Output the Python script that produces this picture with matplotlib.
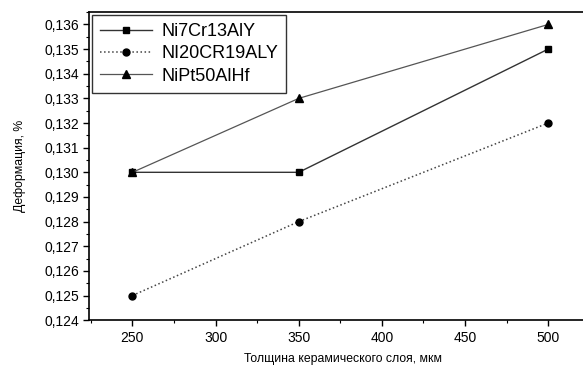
import matplotlib
matplotlib.use("Agg")
import matplotlib.pyplot as plt
from matplotlib.ticker import MultipleLocator, FuncFormatter

thickness = [250, 350, 500]
ni7cr13aly = [0.130, 0.130, 0.135]
ni20cr19aly = [0.125, 0.128, 0.132]
nipt50alhf = [0.130, 0.133, 0.136]
labels = ["Ni7Cr13AlY", "NI20CR19ALY", "NiPt50AlHf"]

plt.rcParams['font.family'] = ['Liberation Sans', 'DejaVu Sans']

fig = plt.figure(figsize=(5.83, 3.68), dpi=100)
ax = fig.add_axes([0.153, 0.130, 0.87, 0.837])

ax.plot(thickness, ni7cr13aly, '-s', color='#333333', lw=1.0, ms=5,
        mfc='black', mec='black', label=labels[0])
ax.plot(thickness, ni20cr19aly, ':o', color='#444444', lw=1.1, ms=5,
        mfc='black', mec='black', label=labels[1])
ax.plot(thickness, nipt50alhf, '-^', color='#555555', lw=0.9, ms=5.5,
        mfc='black', mec='black', label=labels[2])

ax.set_xlim(224, 529)
ax.set_ylim(0.124, 0.1365)
ax.xaxis.set_major_locator(MultipleLocator(50))
ax.xaxis.set_minor_locator(MultipleLocator(25))
ax.yaxis.set_major_locator(MultipleLocator(0.001))
ax.yaxis.set_minor_locator(MultipleLocator(0.0005))
ax.yaxis.set_major_formatter(FuncFormatter(lambda v, p: f"{v:.3f}".replace('.', ',')))
ax.tick_params(which='major', direction='out', length=4, width=1, labelsize=10)
ax.tick_params(which='minor', direction='out', length=2, width=0.8)
for s in ax.spines.values():
    s.set_linewidth(1.2)

ax.set_xlabel("Толщина керамического слоя, мкм", fontsize=8.8)
ax.set_ylabel("Деформация, %", fontsize=8.8)
ax.xaxis.set_label_coords(0.5, -0.105)
ax.yaxis.set_label_coords(-0.125, 0.5)

leg = ax.legend(loc='upper left', fontsize=13, frameon=True, fancybox=False,
                edgecolor='black', borderaxespad=0.15, handlelength=2.9,
                labelspacing=0.3, borderpad=0.45, handletextpad=0.5)
leg.get_frame().set_linewidth(1.0)

fig.savefig("out.png", dpi=100)
